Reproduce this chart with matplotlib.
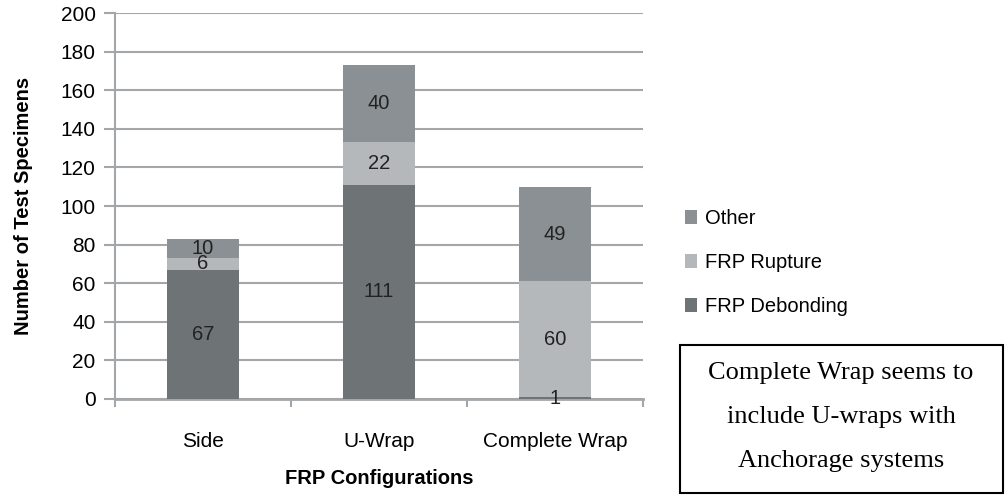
import numpy as np
from matplotlib import pyplot as plt
from matplotlib.patches import Rectangle

configs = ["Side", "U-Wrap", "Complete Wrap"]
debonding = [67, 111, 1]
rupture = [6, 22, 60]
other = [10, 40, 49]
note_lines = ["Complete Wrap seems to", "include U-wraps with", "Anchorage systems"]

c_deb = "#6e7376"
c_rup = "#b5b8bb"
c_oth = "#8b9094"
grid_c = "#a3a7aa"

plt.rcParams['font.family'] = ['Liberation Sans', 'DejaVu Sans']

fig = plt.figure(figsize=(10.05, 5.03), dpi=100)
ax = fig.add_axes([0.1144, 0.2068, 0.5254, 0.7672])

x = np.arange(len(configs))
w = 0.41
bottom2 = np.array(debonding)
bottom3 = bottom2 + np.array(rupture)

# lower segments sit above the upper ones so small labels get tucked under
b1 = ax.bar(x, debonding, w, color=c_deb, label="FRP Debonding", zorder=5)
b2 = ax.bar(x, rupture, w, bottom=bottom2, color=c_rup, label="FRP Rupture", zorder=4)
b3 = ax.bar(x, other, w, bottom=bottom3, color=c_oth, label="Other", zorder=3)

# value labels in the middle of each segment
for vals, base, z in [(debonding, np.zeros(3), 5.5), (rupture, bottom2, 4.5), (other, bottom3, 3.5)]:
    for i, v in enumerate(vals):
        ax.text(x[i], base[i] + v / 2, str(v), ha="center", va="center",
                fontsize=14.5, color="#222222", zorder=z)

ax.set_xlim(-0.5, 2.5)
ax.set_ylim(0, 200)
ax.set_yticks(range(0, 201, 20))
ax.yaxis.grid(True, color=grid_c, linewidth=1.5, zorder=0)
ax.tick_params(axis="y", length=8, color=grid_c, width=1.5, labelsize=15, pad=6)

ax.set_xticks(x)
ax.set_xticklabels(configs)
ax.set_xticks([-0.5, 0.5, 1.5, 2.5], minor=True)
ax.tick_params(axis="x", which="major", length=0, labelsize=15, pad=24)
ax.tick_params(axis="x", which="minor", length=6, color=grid_c, width=1.5)

for s in ["top", "right"]:
    ax.spines[s].set_visible(False)
ax.spines["left"].set_color(grid_c)
ax.spines["left"].set_linewidth(1.5)
ax.spines["bottom"].set_color(grid_c)
ax.spines["bottom"].set_linewidth(2)

ax.set_ylabel("Number of Test Specimens", fontsize=14.5, fontweight="bold", labelpad=20)
ax.set_xlabel("FRP Configurations", fontsize=14.5, fontweight="bold", labelpad=13)

ax.legend(handles=[b3, b2, b1], loc="upper left", bbox_to_anchor=(0.672, 0.605),
          bbox_transform=fig.transFigure, frameon=False, fontsize=14.5,
          handlelength=0.55, handleheight=0.7, handletextpad=0.4, labelspacing=1.25,
          borderpad=0)

# note box
fig.add_artist(Rectangle((0.6766, 0.0199), 0.3214, 0.2942, transform=fig.transFigure,
                         fill=False, edgecolor="black", linewidth=1.5))
for k, line in enumerate(note_lines):
    fig.text(0.8368, 1 - (373 + 44 * k) / 503, line, ha="center", va="center",
             fontsize=19, family="Liberation Serif")

fig.savefig("out.png", dpi=100)
